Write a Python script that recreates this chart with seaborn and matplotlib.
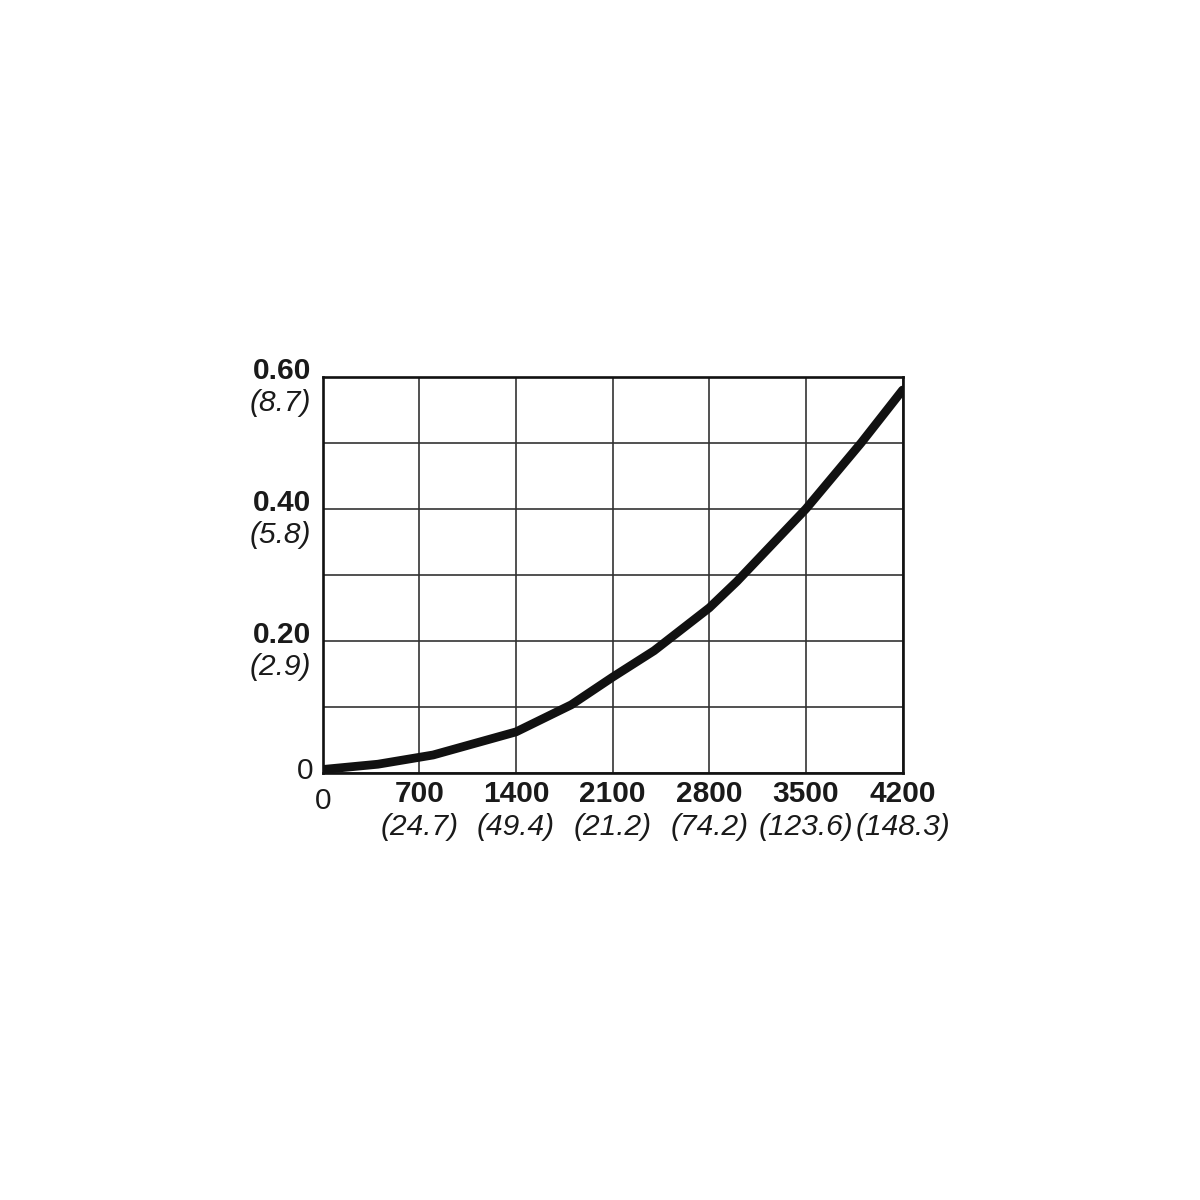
import numpy as np
import pandas as pd
import matplotlib
matplotlib.use("Agg")
import matplotlib.pyplot as plt
import matplotlib.transforms as mtransforms
import seaborn as sns

# curve
flow = [0, 400, 800, 1400, 1800, 2100, 2400, 2800, 3000, 3500, 3900, 4200]
drop = [0.005, 0.013, 0.027, 0.062, 0.103, 0.145, 0.185, 0.25, 0.29, 0.40, 0.50, 0.58]

x_ticks = [700, 1400, 2100, 2800, 3500, 4200]
x_alt = ["(24.7)", "(49.4)", "(21.2)", "(74.2)", "(123.6)", "(148.3)"]
y_ticks = [0.20, 0.40, 0.60]
y_main = ["0.20", "0.40", "0.60"]
y_alt = ["(2.9)", "(5.8)", "(8.7)"]

sns.set_style("white")
plt.rcParams["font.family"] = ["Liberation Sans", "DejaVu Sans"]

data = pd.DataFrame({"flow": flow, "drop": drop})

fig = plt.figure(figsize=(12, 12), dpi=100)
ax = fig.add_axes([0.2689, 0.356, 0.4833, 0.33])

sns.lineplot(data=data, x="flow", y="drop", ax=ax, color="#111111",
             linewidth=6.3, solid_capstyle="round", solid_joinstyle="round", zorder=5)

ax.set_xlim(0, 4200)
ax.set_ylim(0, 0.6)
ax.set_xticks(np.arange(0, 4201, 700))
ax.set_yticks(np.arange(0, 0.61, 0.1))
ax.grid(True, color="#333333", linewidth=1.2)
ax.tick_params(length=0, labelbottom=False, labelleft=False)
ax.set_xlabel("")
ax.set_ylabel("")
for s in ax.spines.values():
    s.set_visible(True)
    s.set_color("#111111")
    s.set_linewidth(1.9)

fs = 21.5
tc = "#1a1a1a"
xt = mtransforms.blended_transform_factory(ax.transData, ax.transAxes)
yt = mtransforms.blended_transform_factory(ax.transAxes, ax.transData)

# x tick labels: bold value, italic converted value below
for v, alt in zip(x_ticks, x_alt):
    ax.annotate(str(v), xy=(v, 0), xycoords=xt, xytext=(0, -15), textcoords="offset points",
                ha="center", va="center", fontsize=fs, fontweight="bold", color=tc)
    ax.annotate(alt, xy=(v, 0), xycoords=xt, xytext=(0, -39), textcoords="offset points",
                ha="center", va="center", fontsize=fs, fontstyle="italic", color=tc)
ax.annotate("0", xy=(0, 0), xycoords=xt, xytext=(0, -20), textcoords="offset points",
            ha="center", va="center", fontsize=fs, color=tc)

# y tick labels
for v, lab, alt in zip(y_ticks, y_main, y_alt):
    ax.annotate(lab, xy=(0, v), xycoords=yt, xytext=(-8.5, 4), textcoords="offset points",
                ha="right", va="center", fontsize=fs, fontweight="bold", color=tc)
    ax.annotate(alt, xy=(0, v), xycoords=yt, xytext=(-8.5, -19), textcoords="offset points",
                ha="right", va="center", fontsize=fs, fontstyle="italic", color=tc)
ax.annotate("0", xy=(0, 0), xycoords=yt, xytext=(-7, 1), textcoords="offset points",
            ha="right", va="center", fontsize=fs, color=tc)

fig.savefig("out.png", dpi=100, facecolor="white")
plt.close(fig)
